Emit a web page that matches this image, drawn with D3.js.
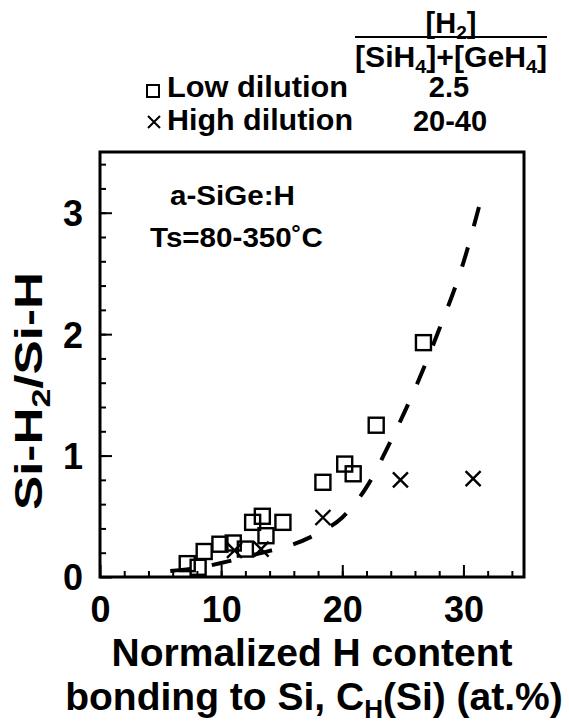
<!DOCTYPE html>
<html>
<head>
<meta charset="utf-8">
<script src="https://cdn.jsdelivr.net/npm/d3@7"></script>
<style>
  body { margin: 0; background: #fff; }
  text { font-family: "Liberation Sans", Arial, sans-serif; font-weight: bold; fill: #000; }
</style>
</head>
<body>
<div class="main"></div>
<script>
// low dilution (squares)
const lowX = [7.2, 8.1, 8.6, 9.9, 11.0, 12.0, 12.6, 13.4, 13.7, 15.1, 18.4, 20.2, 20.9, 22.8, 26.7]
const lowY = [0.11, 0.08, 0.21, 0.27, 0.28, 0.23, 0.45, 0.50, 0.34, 0.45, 0.78, 0.93, 0.85, 1.25, 1.93]
// high dilution (crosses)
const highX = [11.1, 13.3, 18.4, 24.8, 30.8]
const highY = [0.22, 0.23, 0.49, 0.80, 0.81]
// dashed guide curve
const fitX = [5.8, 8, 10, 12, 14, 16, 18, 20, 22, 24, 26, 28, 30, 31.5]
const fitY = [0.05, 0.075, 0.115, 0.165, 0.215, 0.27, 0.36, 0.49, 0.74, 1.12, 1.55, 2.04, 2.59, 3.13]

const xTicks = [0, 10, 20, 30]
const yTicks = [0, 1, 2, 3]

let svg = d3.select('.main').append('svg').attr('width', 569).attr('height', 727)

let plot = {left: 100, right: 524, top: 152, bottom: 577}

let x = d3.scaleLinear().domain([0, 35]).range([plot.left, plot.right])
let y = d3.scaleLinear().domain([0, 3.5]).range([plot.bottom, plot.top])

// minor ticks
svg.append('g')
  .attr('transform', `translate(0, ${plot.bottom})`)
  .call(d3.axisBottom(x).tickValues(d3.range(2, 35, 2)).tickSize(-6).tickFormat(''))
svg.append('g')
  .attr('transform', `translate(${plot.left}, 0)`)
  .call(d3.axisLeft(y).tickValues(d3.range(0.2, 3.5, 0.2)).tickSize(-6).tickFormat(''))

// major ticks + labels
let xAxis = svg.append('g')
  .attr('transform', `translate(0, ${plot.bottom})`)
  .call(d3.axisBottom(x).tickValues(xTicks).tickSize(-12).tickPadding(19).tickFormat(d3.format('d')))
let yAxis = svg.append('g')
  .attr('transform', `translate(${plot.left}, 0)`)
  .call(d3.axisLeft(y).tickValues(yTicks).tickSize(-12).tickPadding(17).tickFormat(d3.format('d')))

svg.selectAll('.tick line').attr('stroke', '#000').attr('stroke-width', 2)
svg.selectAll('.domain').remove()
svg.selectAll('.tick text')
  .style('font-size', '36px')
  .style('font-family', '"Liberation Sans", Arial, sans-serif')
  .style('font-weight', 'bold')
yAxis.selectAll('text').attr('dy', '0.36em')

// frame
svg.append('rect')
  .attr('x', plot.left).attr('y', plot.top)
  .attr('width', plot.right - plot.left).attr('height', plot.bottom - plot.top)
  .attr('fill', 'none').attr('stroke', '#000').attr('stroke-width', 3)

// dashed curve
let fit = fitX.map((d, i) => [d, fitY[i]])
svg.append('path')
  .datum(fit)
  .attr('d', d3.line().x(d => x(d[0])).y(d => y(d[1])).curve(d3.curveMonotoneX))
  .attr('fill', 'none').attr('stroke', '#000').attr('stroke-width', 4)
  .attr('stroke-dasharray', '20,22')

// squares
let sq = 15
svg.append('g').selectAll('rect').data(lowX).enter().append('rect')
  .attr('x', (d) => x(d) - sq / 2)
  .attr('y', (d, i) => y(lowY[i]) - sq / 2)
  .attr('width', sq).attr('height', sq)
  .attr('fill', 'none').attr('stroke', '#000').attr('stroke-width', 2.4)

// crosses
let cr = 7.5
svg.append('g').selectAll('path').data(highX).enter().append('path')
  .attr('d', (d, i) => {
    let cx = x(d), cy = y(highY[i])
    return `M${cx - cr},${cy - cr}L${cx + cr},${cy + cr}M${cx - cr},${cy + cr}L${cx + cr},${cy - cr}`
  })
  .attr('stroke', '#000').attr('stroke-width', 2.4).attr('fill', 'none')

// annotation in plot
svg.append('text').attr('x', 170).attr('y', 205)
  .attr('textLength', 125).attr('lengthAdjust', 'spacingAndGlyphs')
  .style('font-size', '28px').text('a-SiGe:H')
svg.append('text').attr('x', 150).attr('y', 247)
  .attr('textLength', 173).attr('lengthAdjust', 'spacingAndGlyphs')
  .style('font-size', '28px').text('Ts=80-350˚C')

// axis titles
let yt = svg.append('text')
  .attr('transform', 'translate(42, 391) rotate(-90)')
  .attr('text-anchor', 'middle')
  .attr('textLength', 238).attr('lengthAdjust', 'spacingAndGlyphs')
  .style('font-size', '39px')
yt.append('tspan').text('Si-H')
yt.append('tspan').attr('dy', 8).style('font-size', '26px').text('2')
yt.append('tspan').attr('dy', -8).text('/Si-H')

svg.append('text').attr('x', 312).attr('y', 666).attr('text-anchor', 'middle')
  .style('font-size', '39px').text('Normalized H content')
let xt = svg.append('text').attr('x', 314).attr('y', 710).attr('text-anchor', 'middle')
  .style('font-size', '39px')
xt.append('tspan').text('bonding to Si, C')
xt.append('tspan').attr('dy', 8).style('font-size', '26px').text('H')
xt.append('tspan').attr('dy', -8).text('(Si) (at.%)')

// legend
svg.append('rect').attr('x', 147).attr('y', 85).attr('width', 12).attr('height', 12)
  .attr('fill', 'none').attr('stroke', '#000').attr('stroke-width', 2)
svg.append('path').attr('d', 'M148,116L160,128M148,128L160,116')
  .attr('stroke', '#000').attr('stroke-width', 2).attr('fill', 'none')
svg.append('text').attr('x', 167).attr('y', 97)
  .attr('textLength', 181).attr('lengthAdjust', 'spacingAndGlyphs')
  .style('font-size', '29px').text('Low dilution')
svg.append('text').attr('x', 167).attr('y', 130)
  .attr('textLength', 186).attr('lengthAdjust', 'spacingAndGlyphs')
  .style('font-size', '29px').text('High dilution')

// ratio column
let num = svg.append('text').attr('x', 451).attr('y', 33).attr('text-anchor', 'middle').style('font-size', '29px')
num.append('tspan').text('[H')
num.append('tspan').attr('dy', 6).style('font-size', '19px').text('2')
num.append('tspan').attr('dy', -6).text(']')
svg.append('line').attr('x1', 355).attr('x2', 547).attr('y1', 37).attr('y2', 37)
  .attr('stroke', '#000').attr('stroke-width', 2)
let den = svg.append('text').attr('x', 451).attr('y', 67).attr('text-anchor', 'middle')
  .attr('textLength', 192).attr('lengthAdjust', 'spacingAndGlyphs')
  .style('font-size', '29px')
den.append('tspan').text('[SiH')
den.append('tspan').attr('dy', 6).style('font-size', '19px').text('4')
den.append('tspan').attr('dy', -6).text(']+[GeH')
den.append('tspan').attr('dy', 6).style('font-size', '19px').text('4')
den.append('tspan').attr('dy', -6).text(']')
svg.append('text').attr('x', 449).attr('y', 97).attr('text-anchor', 'middle').style('font-size', '29px').text('2.5')
svg.append('text').attr('x', 450).attr('y', 131).attr('text-anchor', 'middle').style('font-size', '29px').text('20-40')
</script>
</body>
</html>
